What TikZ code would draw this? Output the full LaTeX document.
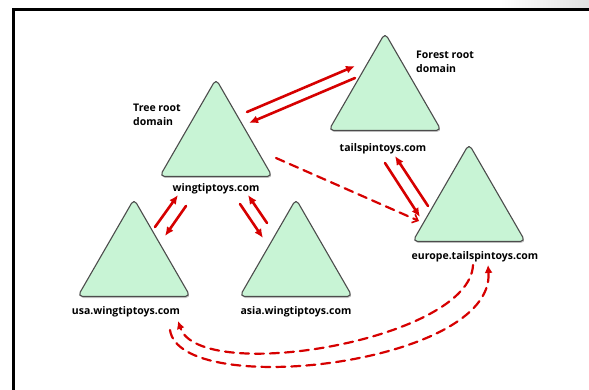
\documentclass[tikz,border=0pt]{standalone}
\usepackage{fontspec}
\setmainfont{Open Sans}
\usetikzlibrary{arrows.meta,shapes.geometric,shadows,positioning}

\definecolor{treegreen}{RGB}{200,244,213}
\definecolor{trustred}{RGB}{214,0,0}

\begin{document}
\begin{tikzpicture}[x=1pt, y=-1pt, line cap=round, line join=round]

% --- Styles ---
\tikzset{
    domaintree/.style={
        regular polygon,
        regular polygon sides=3,
        minimum size=130pt,
        inner sep=0pt,
        rounded corners=5pt,
        draw=black!70,
        line width=1.1pt,
        fill=treegreen,
        drop shadow={shadow xshift=0.7pt, shadow yshift=-1.5pt, opacity=0.4}
    },
    domainname/.style={
        font=\bfseries\fontsize{10.5}{12}\selectfont,
        inner sep=1pt
    },
    note/.style={
        font=\bfseries\fontsize{10.5}{13.5}\selectfont,
        align=left,
        inner sep=0pt,
        anchor=north west
    },
    trust/.style={
        -{Latex[length=9pt,width=8pt]},
        draw=trustred,
        line width=2.6pt
    },
    shortcut/.style={
        -{Straight Barb[length=5pt,width=9pt,line width=1.6pt]},
        draw=trustred,
        line width=2.2pt,
        dash pattern=on 9pt off 6pt
    },
    external/.style={
        -{Latex[length=8pt,width=8pt]},
        draw=trustred,
        line width=2.2pt,
        dash pattern=on 9pt off 6pt
    }
}

\useasboundingbox (0,0) rectangle (589,390);

% --- Frame ---
\shade[left color=white, right color=black!12] (500,0) rectangle (589,8.5);
\draw[line width=3pt, line cap=butt, line join=miter] (13,390) -- (13,10) -- (589,10);

% =========================================================================
% --- Domain trees ---
% =========================================================================
\node[domaintree] (wing)   at (216,144) {};
\node[domaintree] (tail)   at (385,98)  {};
\node[domaintree] (europe) at (469,209) {};
\node[domaintree] (usa)    at (134,264) {};
\node[domaintree] (asia)   at (296,264) {};

\node[domainname, below=5pt of wing.south]                 (wingname)   {wingtiptoys.com};
\node[domainname, below=11pt of tail.south, xshift=-2pt]   (tailname)   {tailspintoys.com};
\node[domainname, below=8pt of europe.south, xshift=6pt]   (europename) {europe.tailspintoys.com};
\node[domainname, below=8pt of usa.south, xshift=-8pt]     (usaname)    {usa.wingtiptoys.com};
\node[domainname, below=8pt of asia.south]                 (asianame)   {asia.wingtiptoys.com};

\node[note] (treeroot)   at (133,104) {Tree root\\domain};
\node[note] (forestroot) at (416,51)  {Forest root\\domain};

% --- End points of the trust arrows ---
\coordinate (wt1) at (247,112); \coordinate (tw1) at (355,66);
\coordinate (tw2) at (355,78);  \coordinate (wt2) at (249,123);
\coordinate (te1) at (385,163); \coordinate (et1) at (420,217);
\coordinate (et2) at (428,206); \coordinate (te2) at (395,156);
\coordinate (uw1) at (155,227); \coordinate (wu1) at (178,195);
\coordinate (wu2) at (186,206); \coordinate (uw2) at (165,236);
\coordinate (wa1) at (240,204); \coordinate (aw1) at (263,238);
\coordinate (aw2) at (267,223); \coordinate (wa2) at (248,195);
\coordinate (we1) at (276,158); \coordinate (ew1) at (419,221);

% --- Two-way trusts ---
\draw[trust] (wt1) -- (tw1);
\draw[trust] (tw2) -- (wt2);
\draw[trust] (te1) -- (et1);
\draw[trust] (et2) -- (te2);
\draw[trust] (uw1) -- (wu1);
\draw[trust] (wu2) -- (uw2);
\draw[trust] (wa1) -- (aw1);
\draw[trust] (aw2) -- (wa2);

% --- Shortcut trust ---
\draw[shortcut] (we1) -- (ew1);

% --- Trusts across the bottom ---
\draw[external] ([xshift=-2pt,yshift=-2pt]europename.south)
    .. controls (470,340) and (200,385) .. ([xshift=52pt,yshift=-3pt]usaname.south);
\draw[external] ([xshift=44pt,yshift=-12pt]usaname.south)
    .. controls (180,400) and (495,365) .. ([xshift=13pt,yshift=-2pt]europename.south);

\end{tikzpicture}
\end{document}
